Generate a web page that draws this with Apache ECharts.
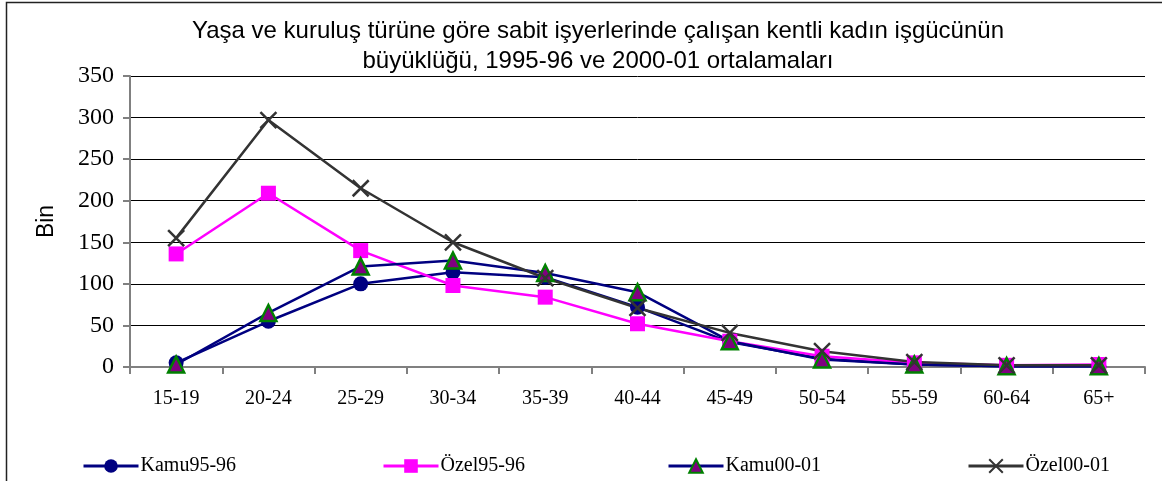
<!DOCTYPE html>
<html lang="tr">
<head>
    <meta charset="UTF-8">
    <title>Kentli kadın işgücü</title>
    <script src="https://cdn.jsdelivr.net/npm/echarts@6/dist/echarts.min.js"></script>
</head>
<body style="margin:0;width:1162px;height:481px;background:#fff">
    <div id="container" style="width:1162px;height:481px"></div>
</body>
<script>
    var yasGruplari = ['15-19', '20-24', '25-29', '30-34', '35-39', '40-44', '45-49', '50-54', '55-59', '60-64', '65+'];
    var kamu9596 = [5, 55, 100, 114, 108, 72, 30, 10, 3, 1, 1];
    var ozel9596 = [136, 209, 140, 98, 84, 52, 31, 13, 5, 2, 3];
    var kamu0001 = [3, 65, 121, 128, 113, 90, 31, 9, 3, 1, 1];
    var ozel0001 = [155, 297, 215, 150, 107, 71, 41, 19, 6, 2, 2];

    var serif = '"Liberation Serif", "Times New Roman", serif';
    var sans = '"Liberation Sans", Arial, sans-serif';

    var dom = document.getElementById('container');
    var myChart = echarts.init(dom);

    function legendAt(name, x) {
        return {
            data: [name],
            left: x,
            top: 451,
            itemWidth: 55,
            itemHeight: 17,
            itemGap: 0,
            lineStyle: { width: 3 },
            textStyle: { fontFamily: serif, fontSize: 20, color: '#000', padding: [0, 0, 0, -3] }
        };
    }

    var option = {
        backgroundColor: '#fff',
        animation: false,
        title: {
            text: 'Yaşa ve kuruluş türüne göre sabit işyerlerinde çalışan kentli kadın işgücünün\nbüyüklüğü, 1995-96 ve 2000-01 ortalamaları',
            left: 593,
            top: 11,
            textAlign: 'center',
            textStyle: { fontFamily: sans, fontSize: 24, fontWeight: 'normal', color: '#000', lineHeight: 30 }
        },
        legend: [
            legendAt('Kamu95-96', 77),
            legendAt('Özel95-96', 377),
            legendAt('Kamu00-01', 662),
            legendAt('Özel00-01', 962)
        ],
        grid: { left: 130, right: 17, top: 76, bottom: 114 },
        xAxis: {
            type: 'category',
            data: yasGruplari,
            boundaryGap: true,
            axisLine: { lineStyle: { color: '#808080', width: 2 } },
            axisTick: { show: true, length: 7, lineStyle: { color: '#808080', width: 2 } },
            axisLabel: { fontFamily: serif, fontSize: 20, color: '#000', margin: 22 }
        },
        yAxis: {
            type: 'value',
            min: 0,
            max: 350,
            interval: 50,
            name: 'Bin',
            nameLocation: 'middle',
            nameGap: 72,
            nameTextStyle: { fontFamily: sans, fontSize: 23, color: '#000' },
            axisLine: { show: true, lineStyle: { color: '#808080', width: 2 } },
            axisTick: { show: true, length: 7, lineStyle: { color: '#808080', width: 2 } },
            axisLabel: { fontFamily: serif, fontSize: 24, color: '#000', margin: 16 },
            splitLine: { lineStyle: { color: '#000', width: 1 } }
        },
        series: [
            {
                name: 'Kamu95-96', type: 'line', data: kamu9596,
                symbol: 'circle', symbolSize: 15,
                lineStyle: { color: '#000080', width: 2.5 },
                itemStyle: { color: '#000080' }
            },
            {
                name: 'Özel95-96', type: 'line', data: ozel9596,
                symbol: 'rect', symbolSize: 15,
                lineStyle: { color: '#ff00ff', width: 2.5 },
                itemStyle: { color: '#ff00ff' }
            },
            {
                name: 'Kamu00-01', type: 'line', data: kamu0001,
                symbol: 'triangle', symbolSize: 16,
                lineStyle: { color: '#000080', width: 2.5 },
                itemStyle: { color: '#800080', borderColor: '#008000', borderWidth: 2.5 }
            },
            {
                name: 'Özel00-01', type: 'line', data: ozel0001,
                symbol: 'path://M0,0L10,10M10,0L0,10', symbolSize: 16,
                lineStyle: { color: '#333333', width: 2.5 },
                itemStyle: { color: '#333333', borderColor: '#333333', borderWidth: 2.5 }
            }
        ],
        graphic: [{
            type: 'rect',
            shape: { x: 6.5, y: 2.5, width: 1200, height: 520 },
            style: { fill: null, stroke: '#222', lineWidth: 1.5 },
            silent: true
        }]
    };

    myChart.setOption(option, true);
</script>
</html>
